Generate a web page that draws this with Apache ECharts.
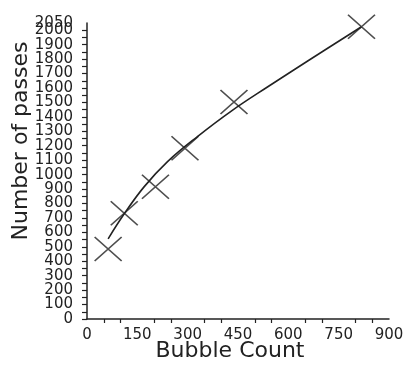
<!DOCTYPE html>
<html>
<head>
<meta charset="utf-8">
<script src="https://cdn.jsdelivr.net/npm/echarts@6/dist/echarts.min.js"></script>
<style>
    html, body { margin: 0; padding: 0; background: #fff; }
    #chart { width: 404px; height: 365px; }
</style>
</head>
<body>
<div id="chart"></div>
<script>
// measured points (bubble count, number of passes)
var bubbleCount = [63, 111, 204, 292, 438, 818];
var passes = [485, 732, 916, 1182, 1503, 2024];

// fitted curve
var curveX = [63, 110, 170, 240, 330, 430, 540, 660, 818];
var curveY = [555, 725, 915, 1090, 1265, 1440, 1610, 1790, 2024];

var xTicks = [0, 150, 300, 450, 600, 750, 900];
var yTop = 2050;

var chart = echarts.init(document.getElementById('chart'));

var ink = '#222';
var font = 'DejaVu Sans';

var pts = [];
for (var i = 0; i < bubbleCount.length; i++) {
    pts.push([bubbleCount[i], passes[i]]);
}
var curve = [];
for (var j = 0; j < curveX.length; j++) {
    curve.push([curveX[j], curveY[j]]);
}

var option = {
    animation: false,
    backgroundColor: '#fff',
    grid: {
        left: 87,
        right: 15,
        top: 23,
        bottom: 46,
        containLabel: false,
        outerBoundsMode: 'none'
    },
    xAxis: {
        type: 'value',
        min: 0,
        max: 900,
        interval: 150,
        name: 'Bubble Count',
        nameLocation: 'middle',
        nameGap: 21,
        nameMoveOverlap: false,
        nameTextStyle: {
            fontFamily: font,
            fontSize: 22,
            color: ink,
            padding: [0, 16, 0, 0]
        },
        axisLine: { lineStyle: { color: ink, width: 1.5 } },
        axisTick: { show: false },
        minorTick: { show: true, splitNumber: 3, length: 4, lineStyle: { color: ink, width: 1.2 } },
        splitLine: { show: false },
        axisLabel: {
            margin: 9,
            fontFamily: font,
            fontSize: 15,
            color: ink,
            formatter: function(v) {
                return xTicks.indexOf(v) >= 0 ? String(v) : '';
            }
        }
    },
    yAxis: [
        {
            type: 'value',
            min: 0,
            max: yTop,
            interval: 50,
            name: 'Number of passes',
            nameLocation: 'middle',
            nameRotate: 90,
            nameGap: 55,
            nameMoveOverlap: false,
            nameTextStyle: {
                fontFamily: font,
                fontSize: 22,
                color: ink,
                padding: [0, 0, 0, 60]
            },
            axisLine: { lineStyle: { color: ink, width: 1.5 } },
            axisTick: { show: true, inside: false, length: 5, lineStyle: { color: ink, width: 1.2 } },
            splitLine: { show: false },
            axisLabel: {
                margin: 14,
                showMaxLabel: false,
                fontFamily: font,
                fontSize: 15,
                color: ink,
                formatter: function(v) {
                    return v % 100 === 0 ? String(v) : '';
                }
            }
        },
        {
            // only carries the top "2050" label
            type: 'value',
            position: 'left',
            min: 0,
            max: yTop,
            interval: yTop,
            axisLine: { show: false },
            axisTick: { show: false },
            splitLine: { show: false },
            axisLabel: {
                margin: 14,
                showMaxLabel: true,
                showMinLabel: false,
                fontFamily: font,
                fontSize: 15,
                color: ink,
                padding: [0, 0, 6, 0],
                formatter: function(v) {
                    return v === yTop ? String(v) : '';
                }
            }
        }
    ],
    series: [
        {
            type: 'line',
            data: curve,
            smooth: 0.4,
            showSymbol: false,
            lineStyle: { color: ink, width: 1.6 }
        },
        {
            type: 'scatter',
            data: pts,
            symbol: 'path://M0,0 L10,10 M10,0 L0,10',
            symbolSize: [27, 24],
            itemStyle: {
                color: 'rgba(0,0,0,0)',
                borderColor: ink,
                borderWidth: 1.6
            }
        }
    ]
};

chart.setOption(option);
</script>
</body>
</html>
